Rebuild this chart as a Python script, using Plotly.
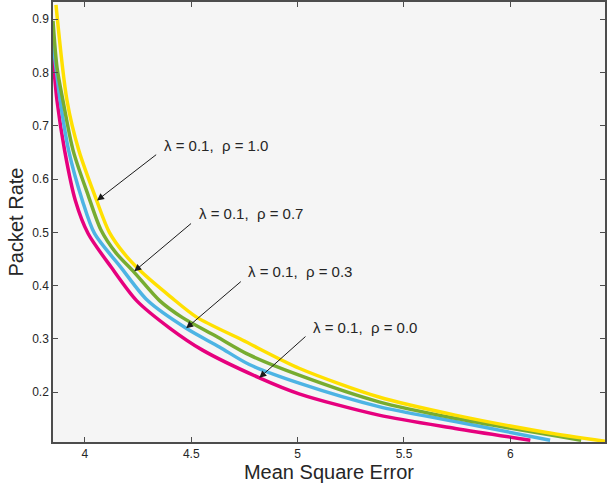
import plotly.graph_objects as go

# Mean square error / packet rate pairs, one curve per correlation rho
mse_rho00 = [3.850, 3.869, 3.905, 3.955, 4.015, 4.125, 4.243, 4.400, 4.553, 4.820, 5.007, 5.382, 5.741, 6.094]
rate_rho00 = [0.828, 0.747, 0.653, 0.560, 0.498, 0.434, 0.372, 0.320, 0.279, 0.227, 0.197, 0.157, 0.132, 0.110]

mse_rho03 = [3.850, 3.884, 3.924, 3.988, 4.045, 4.170, 4.295, 4.476, 4.632, 4.773, 5.007, 5.382, 5.741, 6.187]
rate_rho03 = [0.856, 0.747, 0.653, 0.560, 0.498, 0.434, 0.372, 0.320, 0.285, 0.252, 0.217, 0.173, 0.145, 0.110]

mse_rho07 = [3.850, 3.869, 3.897, 3.945, 4.015, 4.075, 4.145, 4.232, 4.351, 4.459, 4.617, 4.773, 5.007, 5.382, 5.741, 6.333]
rate_rho07 = [0.897, 0.809, 0.747, 0.653, 0.570, 0.505, 0.462, 0.425, 0.372, 0.340, 0.305, 0.270, 0.232, 0.182, 0.151, 0.110]

mse_rho10 = [3.864, 3.916, 3.972, 4.055, 4.115, 4.185, 4.268, 4.400, 4.525, 4.740, 5.007, 5.382, 5.741, 6.164, 6.445]
rate_rho10 = [0.927, 0.747, 0.653, 0.560, 0.500, 0.460, 0.425, 0.380, 0.341, 0.298, 0.245, 0.191, 0.157, 0.125, 0.108]

labels = ['λ = 0.1,  ρ = 0.0', 'λ = 0.1,  ρ = 0.3', 'λ = 0.1,  ρ = 0.7', 'λ = 0.1,  ρ = 1.0']

# arrow head (on the curve), arrow tail and label position, in data units
arrow_heads = [(4.820, 0.227), (4.476, 0.320), (4.232, 0.427), (4.057, 0.560)]
arrow_tails = [(5.044, 0.307), (4.740, 0.410), (4.506, 0.519), (4.342, 0.648)]
label_pos = [(5.063, 0.322), (4.759, 0.427), (4.525, 0.535), (4.361, 0.663)]

x_ticks = [4, 4.5, 5, 5.5, 6]
y_ticks = [0.2, 0.3, 0.4, 0.5, 0.6, 0.7, 0.8, 0.9]


def plot_rate_curves():
    fig = go.Figure()

    curves = [
        (mse_rho00, rate_rho00, '#E6007E'),
        (mse_rho03, rate_rho03, '#4DB4E4'),
        (mse_rho07, rate_rho07, '#77AC30'),
        (mse_rho10, rate_rho10, '#FFE000'),
    ]
    for x, y, color in curves:
        fig.add_trace(go.Scatter(x=x, y=y, mode='lines',
                                 line=dict(color=color, width=3.5, shape='spline', smoothing=0.8),
                                 showlegend=False, hoverinfo='skip'))

    annotations = []
    for (hx, hy), (tx, ty), (lx, ly), text in zip(arrow_heads, arrow_tails, label_pos, labels):
        # arrow only
        annotations.append(dict(
            x=hx, y=hy, ax=tx, ay=ty, xref='x', yref='y', axref='x', ayref='y',
            text='', showarrow=True, arrowhead=2, arrowsize=1.4, arrowwidth=1,
            arrowcolor='#1a1a1a'
        ))
        # label only
        annotations.append(dict(
            x=lx, y=ly, xref='x', yref='y', text=text, showarrow=False,
            xanchor='left', yanchor='middle',
            font=dict(family='Liberation Sans, Arial', size=15, color='#262626')
        ))

    axis_style = dict(
        showgrid=False, zeroline=False, showline=True, mirror='ticks',
        linecolor='#4d4d4d', linewidth=1.5,
        ticks='inside', ticklen=5, tickcolor='#4d4d4d',
        tickfont=dict(family='Liberation Sans, Arial', size=12, color='#262626'),
    )

    fig.update_layout(
        width=607, height=490,
        margin=dict(l=53, r=0, t=1, b=48),
        paper_bgcolor='white',
        plot_bgcolor='#F5F5F5',
        annotations=annotations,
        xaxis=dict(
            range=[3.850, 6.445], tickvals=x_ticks, ticktext=[str(v) for v in x_ticks],
            title=dict(text='Mean Square Error', standoff=5,
                       font=dict(family='Liberation Sans, Arial', size=20, color='#262626')),
            **axis_style
        ),
        yaxis=dict(
            range=[0.1066, 0.9324], tickvals=y_ticks, ticktext=[f'{v:.1f}' for v in y_ticks],
            title=dict(text='Packet Rate', standoff=3,
                       font=dict(family='Liberation Sans, Arial', size=20, color='#262626')),
            **axis_style
        ),
    )

    # drop the default page margin so the figure sits at the window's corner
    fig.write_html('out.html', config={'displayModeBar': False},
                   post_script="document.body.style.margin='0';")


if __name__ == '__main__':
    plot_rate_curves()
